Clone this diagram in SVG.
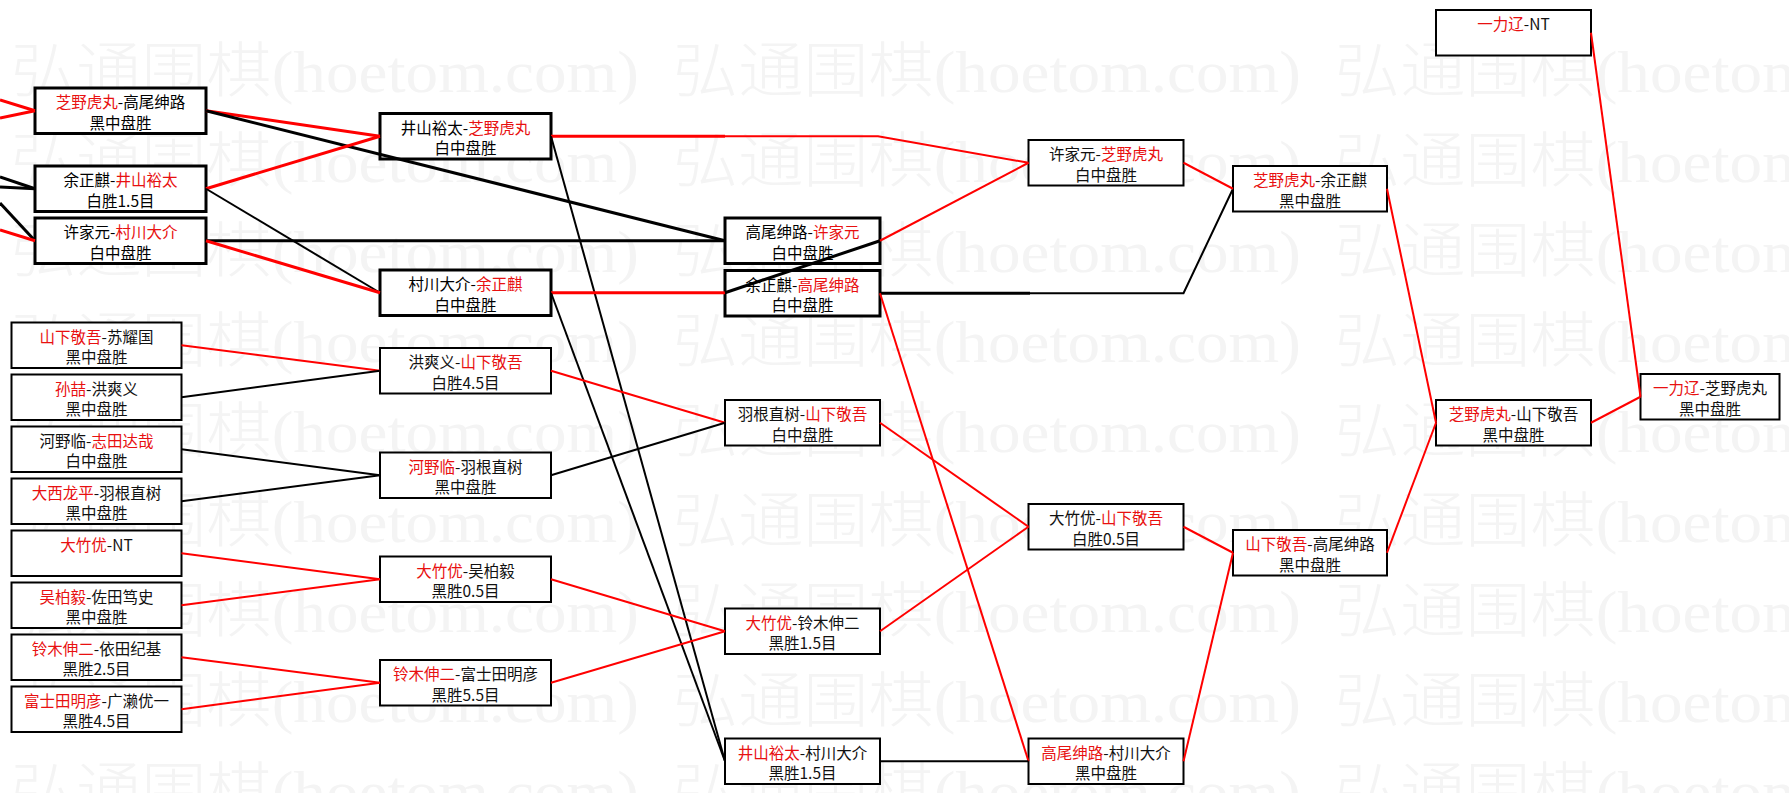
<svg xmlns="http://www.w3.org/2000/svg" width="1789" height="793" viewBox="0 0 1789 793">
<style>
.bg{fill:#ffffff}
.wm text{font-family:"Liberation Serif","Noto Sans CJK SC",serif;font-size:60px;font-weight:300;fill:#f4f4f4}
.nd rect{fill:#ffffff;stroke:#000000}
.thick rect{stroke-width:3}
.thin rect{stroke-width:2}
.nd text{font-family:"Noto Sans CJK SC",sans-serif;font-size:15.5px;text-anchor:middle;fill:#111111}
.thick text{fill:#000000}
.r{fill:#e81010}
.cn line,.cn polyline{fill:none;stroke-linecap:butt;stroke-linejoin:miter}
.red{stroke:#ff0000}
.blk{stroke:#000000}
.w3{stroke-width:3}
.w2{stroke-width:2}
</style>
<rect class="bg" x="0" y="0" width="1789" height="793"/>
<g class="wm">
<text x="11" y="92" textLength="628" lengthAdjust="spacingAndGlyphs">弘通围棋(hoetom.com)</text>
<text x="673" y="92" textLength="628" lengthAdjust="spacingAndGlyphs">弘通围棋(hoetom.com)</text>
<text x="1335" y="92" textLength="628" lengthAdjust="spacingAndGlyphs">弘通围棋(hoetom.com)</text>
<text x="11" y="182" textLength="628" lengthAdjust="spacingAndGlyphs">弘通围棋(hoetom.com)</text>
<text x="673" y="182" textLength="628" lengthAdjust="spacingAndGlyphs">弘通围棋(hoetom.com)</text>
<text x="1335" y="182" textLength="628" lengthAdjust="spacingAndGlyphs">弘通围棋(hoetom.com)</text>
<text x="11" y="272" textLength="628" lengthAdjust="spacingAndGlyphs">弘通围棋(hoetom.com)</text>
<text x="673" y="272" textLength="628" lengthAdjust="spacingAndGlyphs">弘通围棋(hoetom.com)</text>
<text x="1335" y="272" textLength="628" lengthAdjust="spacingAndGlyphs">弘通围棋(hoetom.com)</text>
<text x="11" y="362" textLength="628" lengthAdjust="spacingAndGlyphs">弘通围棋(hoetom.com)</text>
<text x="673" y="362" textLength="628" lengthAdjust="spacingAndGlyphs">弘通围棋(hoetom.com)</text>
<text x="1335" y="362" textLength="628" lengthAdjust="spacingAndGlyphs">弘通围棋(hoetom.com)</text>
<text x="11" y="452" textLength="628" lengthAdjust="spacingAndGlyphs">弘通围棋(hoetom.com)</text>
<text x="673" y="452" textLength="628" lengthAdjust="spacingAndGlyphs">弘通围棋(hoetom.com)</text>
<text x="1335" y="452" textLength="628" lengthAdjust="spacingAndGlyphs">弘通围棋(hoetom.com)</text>
<text x="11" y="542" textLength="628" lengthAdjust="spacingAndGlyphs">弘通围棋(hoetom.com)</text>
<text x="673" y="542" textLength="628" lengthAdjust="spacingAndGlyphs">弘通围棋(hoetom.com)</text>
<text x="1335" y="542" textLength="628" lengthAdjust="spacingAndGlyphs">弘通围棋(hoetom.com)</text>
<text x="11" y="632" textLength="628" lengthAdjust="spacingAndGlyphs">弘通围棋(hoetom.com)</text>
<text x="673" y="632" textLength="628" lengthAdjust="spacingAndGlyphs">弘通围棋(hoetom.com)</text>
<text x="1335" y="632" textLength="628" lengthAdjust="spacingAndGlyphs">弘通围棋(hoetom.com)</text>
<text x="11" y="722" textLength="628" lengthAdjust="spacingAndGlyphs">弘通围棋(hoetom.com)</text>
<text x="673" y="722" textLength="628" lengthAdjust="spacingAndGlyphs">弘通围棋(hoetom.com)</text>
<text x="1335" y="722" textLength="628" lengthAdjust="spacingAndGlyphs">弘通围棋(hoetom.com)</text>
<text x="11" y="812" textLength="628" lengthAdjust="spacingAndGlyphs">弘通围棋(hoetom.com)</text>
<text x="673" y="812" textLength="628" lengthAdjust="spacingAndGlyphs">弘通围棋(hoetom.com)</text>
<text x="1335" y="812" textLength="628" lengthAdjust="spacingAndGlyphs">弘通围棋(hoetom.com)</text>
</g>

<g id="nodes">
<g id="a1" class="nd thick"><rect x="35" y="88" width="171" height="45.5"/><text x="120.5" y="108"><tspan class="r">芝野虎丸</tspan>-高尾绅路</text><text x="120.5" y="128.5">黑中盘胜</text></g>
<g id="a2" class="nd thick"><rect x="35" y="166" width="171" height="45.5"/><text x="120.5" y="186">余正麒-<tspan class="r">井山裕太</tspan></text><text x="120.5" y="206.5">白胜1.5目</text></g>
<g id="a3" class="nd thick"><rect x="35" y="218" width="171" height="45.5"/><text x="120.5" y="238">许家元-<tspan class="r">村川大介</tspan></text><text x="120.5" y="258.5">白中盘胜</text></g>

<g id="l1" class="nd thin"><rect x="11.5" y="322.5" width="170" height="45.5"/><text x="96.5" y="342.5"><tspan class="r">山下敬吾</tspan>-苏耀国</text><text x="96.5" y="363">黑中盘胜</text></g>
<g id="l2" class="nd thin"><rect x="11.5" y="374.5" width="170" height="45.5"/><text x="96.5" y="394.5"><tspan class="r">孙喆</tspan>-洪爽义</text><text x="96.5" y="415">黑中盘胜</text></g>
<g id="l3" class="nd thin"><rect x="11.5" y="426.5" width="170" height="45.5"/><text x="96.5" y="446.5">河野临-<tspan class="r">志田达哉</tspan></text><text x="96.5" y="467">白中盘胜</text></g>
<g id="l4" class="nd thin"><rect x="11.5" y="478.5" width="170" height="45.5"/><text x="96.5" y="498.5"><tspan class="r">大西龙平</tspan>-羽根直树</text><text x="96.5" y="519">黑中盘胜</text></g>
<g id="l5" class="nd thin"><rect x="11.5" y="530.5" width="170" height="45.5"/><text x="96.5" y="550.5"><tspan class="r">大竹优</tspan>-NT</text></g>
<g id="l6" class="nd thin"><rect x="11.5" y="582.5" width="170" height="45.5"/><text x="96.5" y="602.5"><tspan class="r">吴柏毅</tspan>-佐田笃史</text><text x="96.5" y="623">黑中盘胜</text></g>
<g id="l7" class="nd thin"><rect x="11.5" y="634.5" width="170" height="45.5"/><text x="96.5" y="654.5"><tspan class="r">铃木伸二</tspan>-依田纪基</text><text x="96.5" y="675">黑胜2.5目</text></g>
<g id="l8" class="nd thin"><rect x="11.5" y="686.5" width="170" height="45.5"/><text x="96.5" y="706.5"><tspan class="r">富士田明彦</tspan>-广濑优一</text><text x="96.5" y="727">黑胜4.5目</text></g>

<g id="b1" class="nd thick"><rect x="380" y="113.5" width="171" height="45.5"/><text x="465.5" y="133.5">井山裕太-<tspan class="r">芝野虎丸</tspan></text><text x="465.5" y="154">白中盘胜</text></g>
<g id="b2" class="nd thick"><rect x="380" y="270" width="171" height="45.5"/><text x="465.5" y="290">村川大介-<tspan class="r">余正麒</tspan></text><text x="465.5" y="310.5">白中盘胜</text></g>
<g id="b3" class="nd thin"><rect x="380" y="348" width="171" height="45.5"/><text x="465.5" y="368">洪爽义-<tspan class="r">山下敬吾</tspan></text><text x="465.5" y="388.5">白胜4.5目</text></g>
<g id="b4" class="nd thin"><rect x="380" y="452.5" width="171" height="45.5"/><text x="465.5" y="472.5"><tspan class="r">河野临</tspan>-羽根直树</text><text x="465.5" y="493">黑中盘胜</text></g>
<g id="b5" class="nd thin"><rect x="380" y="556.5" width="171" height="45.5"/><text x="465.5" y="576.5"><tspan class="r">大竹优</tspan>-吴柏毅</text><text x="465.5" y="597">黑胜0.5目</text></g>
<g id="b6" class="nd thin"><rect x="380" y="660" width="171" height="45.5"/><text x="465.5" y="680"><tspan class="r">铃木伸二</tspan>-富士田明彦</text><text x="465.5" y="700.5">黑胜5.5目</text></g>

<g id="c1" class="nd thick"><rect x="725" y="218" width="155" height="45.5"/><text x="802.5" y="238">高尾绅路-<tspan class="r">许家元</tspan></text><text x="802.5" y="258.5">白中盘胜</text></g>
<g id="c2" class="nd thick"><rect x="725" y="270.5" width="155" height="45.5"/><text x="802.5" y="290.5">余正麒-<tspan class="r">高尾绅路</tspan></text><text x="802.5" y="311">白中盘胜</text></g>
<g id="c3" class="nd thin"><rect x="725" y="400" width="155" height="45.5"/><text x="802.5" y="420">羽根直树-<tspan class="r">山下敬吾</tspan></text><text x="802.5" y="440.5">白中盘胜</text></g>
<g id="c4" class="nd thin"><rect x="725" y="608.5" width="155" height="45.5"/><text x="802.5" y="628.5"><tspan class="r">大竹优</tspan>-铃木伸二</text><text x="802.5" y="649">黑胜1.5目</text></g>
<g id="c5" class="nd thin"><rect x="725" y="738.5" width="155" height="45.5"/><text x="802.5" y="758.5"><tspan class="r">井山裕太</tspan>-村川大介</text><text x="802.5" y="779">黑胜1.5目</text></g>

<g id="d1" class="nd thin"><rect x="1028.5" y="140" width="155" height="45.5"/><text x="1106" y="160">许家元-<tspan class="r">芝野虎丸</tspan></text><text x="1106" y="180.5">白中盘胜</text></g>
<g id="d2" class="nd thin"><rect x="1028.5" y="504" width="155" height="45.5"/><text x="1106" y="524">大竹优-<tspan class="r">山下敬吾</tspan></text><text x="1106" y="544.5">白胜0.5目</text></g>
<g id="d3" class="nd thin"><rect x="1028.5" y="738.5" width="155" height="45.5"/><text x="1106" y="758.5"><tspan class="r">高尾绅路</tspan>-村川大介</text><text x="1106" y="779">黑中盘胜</text></g>

<g id="e1" class="nd thin"><rect x="1233" y="166" width="154" height="45.5"/><text x="1310" y="186"><tspan class="r">芝野虎丸</tspan>-余正麒</text><text x="1310" y="206.5">黑中盘胜</text></g>
<g id="e2" class="nd thin"><rect x="1233" y="530" width="154" height="45.5"/><text x="1310" y="550"><tspan class="r">山下敬吾</tspan>-高尾绅路</text><text x="1310" y="570.5">黑中盘胜</text></g>

<g id="f1" class="nd thin"><rect x="1436" y="10" width="155" height="45.5"/><text x="1513.5" y="30"><tspan class="r">一力辽</tspan>-NT</text></g>
<g id="f2" class="nd thin"><rect x="1436" y="400" width="155" height="45.5"/><text x="1513.5" y="420"><tspan class="r">芝野虎丸</tspan>-山下敬吾</text><text x="1513.5" y="440.5">黑中盘胜</text></g>

<g id="g1" class="nd thin"><rect x="1640.5" y="374" width="139" height="45.5"/><text x="1710" y="394"><tspan class="r">一力辽</tspan>-芝野虎丸</text><text x="1710" y="414.5">黑中盘胜</text></g>
</g>

<g id="connectors" class="cn">
<line class="red w3" x1="0" y1="100" x2="35" y2="110.75"/>
<line class="red w3" x1="0" y1="118" x2="35" y2="110.75"/>
<line class="blk w3" x1="0" y1="177" x2="35" y2="188.75"/>
<line class="blk w3" x1="0" y1="187" x2="35" y2="188.75"/>
<line class="blk w3" x1="0" y1="203" x2="35" y2="240.75"/>
<line class="red w3" x1="0" y1="230" x2="35" y2="240.75"/>

<line class="red w3" x1="206" y1="110.75" x2="380" y2="136.25"/>
<line class="blk w3" x1="206" y1="110.75" x2="725" y2="240.75"/>
<line class="red w3" x1="206" y1="188.75" x2="380" y2="136.25"/>
<line class="blk w2" x1="206" y1="188.75" x2="380" y2="292.75"/>
<line class="blk w3" x1="206" y1="240.75" x2="725" y2="240.75"/>
<line class="red w3" x1="206" y1="240.75" x2="380" y2="292.75"/>

<line class="red w3" x1="551" y1="136.25" x2="725" y2="136.25"/>
<polyline class="red w2" points="725,136.25 878,136.25 1028.5,162.75"/>
<line class="blk w2" x1="551" y1="136.25" x2="725" y2="761.25"/>
<line class="red w3" x1="551" y1="292.75" x2="725" y2="292.75"/>
<line class="blk w2" x1="551" y1="292.75" x2="725" y2="761.25"/>
<line class="blk w3" x1="725" y1="292.75" x2="880" y2="240.75"/>
<line class="red w2" x1="880" y1="240.75" x2="1028.5" y2="162.75"/>
<line class="blk w3" x1="880" y1="293.25" x2="1030" y2="293.25"/>
<polyline class="blk w2" points="1030,293.25 1183.5,293.25 1233,188.75"/>
<line class="red w2" x1="880" y1="293.25" x2="1028.5" y2="761.25"/>
<line class="red w2" x1="1183.5" y1="162.75" x2="1233" y2="188.75"/>
<line class="red w2" x1="1387" y1="188.75" x2="1436" y2="422.75"/>
<line class="red w2" x1="1591" y1="32.75" x2="1640.5" y2="396.75"/>
<line class="red w2" x1="1591" y1="422.75" x2="1640.5" y2="396.75"/>
<line class="red w2" x1="1387" y1="552.75" x2="1436" y2="422.75"/>
<line class="red w2" x1="1183.5" y1="526.75" x2="1233" y2="552.75"/>
<line class="red w2" x1="1183.5" y1="761.25" x2="1233" y2="552.75"/>
<line class="red w2" x1="880" y1="422.75" x2="1028.5" y2="526.75"/>
<line class="red w2" x1="880" y1="631.25" x2="1028.5" y2="526.75"/>
<line class="blk w2" x1="880" y1="761.25" x2="1028.5" y2="761.25"/>

<line class="red w2" x1="551" y1="370.75" x2="725" y2="422.75"/>
<line class="blk w2" x1="551" y1="475.25" x2="725" y2="422.75"/>
<line class="red w2" x1="551" y1="579.25" x2="725" y2="631.25"/>
<line class="red w2" x1="551" y1="682.75" x2="725" y2="631.25"/>

<line class="red w2" x1="181.5" y1="345.25" x2="380" y2="370.75"/>
<line class="blk w2" x1="181.5" y1="397.25" x2="380" y2="370.75"/>
<line class="blk w2" x1="181.5" y1="449.25" x2="380" y2="475.25"/>
<line class="blk w2" x1="181.5" y1="501.25" x2="380" y2="475.25"/>
<line class="red w2" x1="181.5" y1="553.25" x2="380" y2="579.25"/>
<line class="red w2" x1="181.5" y1="605.25" x2="380" y2="579.25"/>
<line class="red w2" x1="181.5" y1="657.25" x2="380" y2="682.75"/>
<line class="red w2" x1="181.5" y1="709.25" x2="380" y2="682.75"/>
</g>
</svg>
